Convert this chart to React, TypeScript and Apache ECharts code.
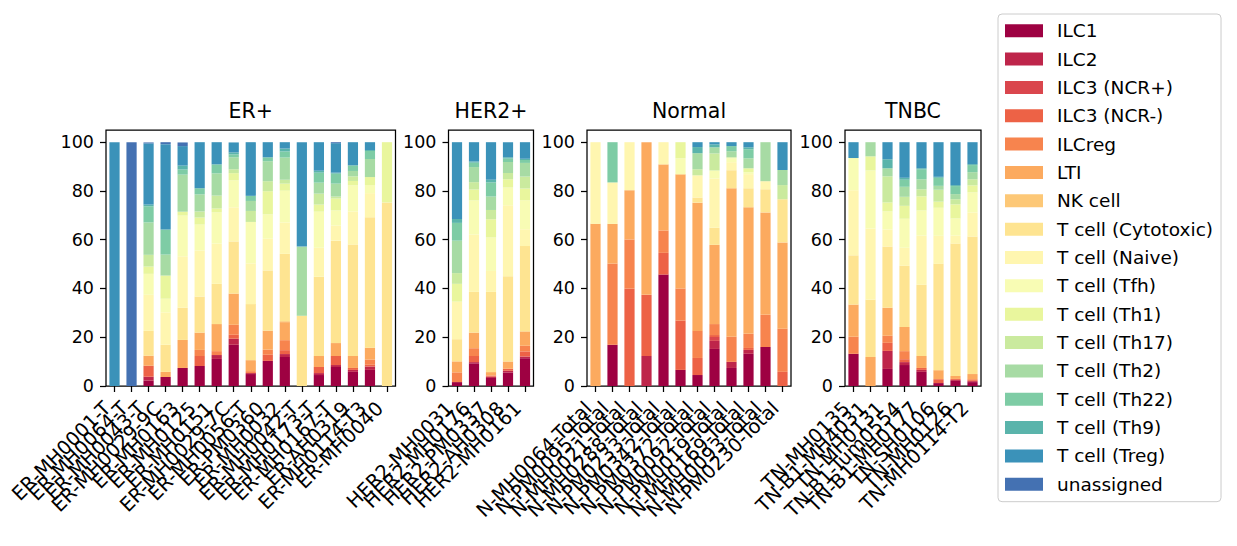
import React, { useEffect, useRef } from 'react';
import * as echarts from 'echarts';

const cellTypes = [
  'ILC1', 'ILC2', 'ILC3 (NCR+)', 'ILC3 (NCR-)', 'ILCreg', 'LTI', 'NK cell',
  'T cell (Cytotoxic)', 'T cell (Naive)', 'T cell (Tfh)', 'T cell (Th1)',
  'T cell (Th17)', 'T cell (Th2)', 'T cell (Th22)', 'T cell (Th9)',
  'T cell (Treg)', 'unassigned',
];

const cellColors = [
  '#9e0142', '#be254a', '#da464d', '#ed6246', '#f7844e', '#fcaa5f', '#fdc877',
  '#fee491', '#fff6b0', '#f8fcb4', '#e9f69d', '#caea9e', '#a7dba4', '#7ecca5',
  '#5ab4ab', '#3b92b9', '#4471b2',
];

const groupTitles = ['ER+', 'HER2+', 'Normal', 'TNBC'];

const erSamples = [
  'ER-MH0001-T', 'ER-MH0064-T', 'ER-MH0043-T', 'ER-MH0029-9C', 'ER-MH0163',
  'ER-MH0125', 'ER-MH0151', 'ER-MH0029-7C', 'ER-MH0056-T', 'ER-PM0360',
  'ER-MH0032', 'ER-MH0042-T', 'ER-MH0173-T', 'ER-MH0167-T', 'ER-AH0319',
  'ER-MH0114-T3', 'ER-MH0040',
];
const her2Samples = ['HER2-MH0031', 'HER2-MH0176', 'HER2-PM0337', 'HER2-AH0308', 'HER2-MH0161'];
const normalSamples = [
  'N-MH0064-Total', 'N-PM0095-Total', 'N-MH0021-Total', 'N-MH0288-Total',
  'N-PM0233-Total', 'N-PM0342-Total', 'N-PM0372-Total', 'N-PM0092-Total',
  'N-PM0019-Total', 'N-MH0169-Total', 'N-MH0093-Total', 'N-PM0230-Total',
];
const tnbcSamples = [
  'TN-MH0135', 'TN-B1-MH4031', 'TN-MH0131', 'TN-B1-Tum0554', 'TN-B1-MH0177',
  'TN-SH0106', 'TN-MH0126', 'TN-MH0114-T2',
];

// one row per sample, columns in cellTypes order (percent)
const erValues = [
  [0, 0, 0, 0, 0, 0, 0, 0, 0, 0, 0, 0, 0, 0, 0, 100, 0],
  [0, 0, 0, 0, 0, 0, 0, 0, 0, 0, 0, 0, 0, 0, 0, 0, 100],
  [2.2, 1.6, 0, 4.5, 0, 4.1, 0, 10.2, 14.8, 8.6, 3.0, 4.8, 13.3, 6.6, 0.7, 25.1, 0.4],
  [3.7, 0, 0, 0, 0, 2.1, 0, 11.1, 13.3, 5.6, 9.5, 0, 8.6, 10.3, 0, 35.0, 0.8],
  [7.4, 0, 0, 0, 0, 11.5, 0, 13.2, 21.1, 16.7, 1.6, 0, 15.2, 2.1, 1.6, 8.0, 1.5],
  [8.2, 0, 0, 4.1, 2.5, 7.1, 0, 14.8, 18.9, 10.6, 2.9, 2.5, 7.0, 2.5, 0, 18.9, 0],
  [11.1, 1.6, 0, 0, 1.6, 11.1, 0, 16.5, 16.5, 12.8, 1.6, 5.3, 9.1, 3.7, 0, 9.1, 0],
  [16.9, 2.5, 0, 1.6, 4.1, 12.8, 0, 21.4, 14.0, 11.1, 2.9, 1.6, 4.9, 1.2, 0.8, 4.1, 0],
  [4.9, 0.4, 0, 0, 0.8, 4.5, 0, 23.0, 16.7, 17.0, 0, 4.5, 4.1, 2.1, 0, 22.0, 0],
  [10.3, 0, 0, 2.5, 2.1, 7.8, 0, 24.7, 13.0, 10.0, 9.5, 4.1, 8.2, 1.6, 0, 6.2, 0],
  [11.9, 1.2, 0, 1.6, 4.1, 7.4, 0.4, 27.6, 12.9, 13.0, 2.9, 1.6, 9.1, 2.5, 1.2, 2.6, 0],
  [0, 0, 0, 0, 0, 0, 0, 28.8, 0, 0, 0, 0, 28.4, 0, 0, 42.8, 0],
  [4.5, 0.8, 0, 2.5, 0, 4.5, 0, 32.5, 11.9, 14.8, 2.9, 4.5, 4.5, 4.1, 0.8, 11.7, 0],
  [7.8, 0.8, 0, 3.7, 0, 5.3, 0, 42.0, 6.2, 6.2, 4.9, 0.8, 5.3, 4.1, 0.4, 12.1, 0.4],
  [5.8, 0.8, 0, 0.8, 0, 4.9, 0, 45.7, 13.6, 10.7, 1.8, 1.9, 2.2, 2.3, 0, 9.5, 0],
  [6.6, 1.4, 0, 0.7, 2.1, 4.9, 0, 53.5, 9.9, 3.3, 3.3, 0, 7.4, 3.3, 0.4, 3.2, 0],
  [0, 0, 0, 0, 0, 0, 0, 75.3, 0, 0, 24.7, 0, 0, 0, 0, 0, 0],
];
const her2Values = [
  [1.6, 0, 0, 0, 4.0, 4.5, 0, 9.1, 15.4, 0, 7.3, 4.4, 13.3, 7.3, 1.6, 31.5, 0],
  [9.3, 0.5, 0, 2.5, 3.2, 6.4, 0, 16.7, 23.5, 14.0, 4.5, 3.0, 6.2, 1.8, 0.5, 7.9, 0],
  [3.3, 0.5, 0, 0.5, 0, 1.4, 0, 32.9, 8.6, 13.7, 7.5, 3.8, 5.5, 5.8, 1.1, 15.4, 0],
  [5.5, 0.8, 0, 0.8, 0, 2.9, 0, 35.0, 29.1, 7.3, 3.4, 2.6, 4.5, 1.4, 0.5, 6.2, 0],
  [11.4, 0.7, 0, 2.1, 2.3, 5.9, 0, 35.0, 6.9, 11.9, 4.8, 4.9, 5.6, 1.2, 0.5, 6.8, 0],
];
const normalValues = [
  [0, 0, 0, 0, 0, 66.5, 0, 0, 33.5, 0, 0, 0, 0, 0, 0, 0, 0],
  [16.9, 0, 0, 0, 33.3, 16.3, 0, 0, 17.0, 0, 0, 0, 0, 16.5, 0, 0, 0],
  [0, 0, 0, 39.9, 20.2, 20.2, 0, 0, 19.7, 0, 0, 0, 0, 0, 0, 0, 0],
  [0, 12.3, 0, 25.1, 0, 62.6, 0, 0, 0, 0, 0, 0, 0, 0, 0, 0, 0],
  [45.7, 0, 0, 8.9, 9.2, 27.1, 0, 0, 9.1, 0, 0, 0, 0, 0, 0, 0, 0],
  [6.6, 0, 0, 20.2, 13.2, 46.8, 0, 0, 0, 6.6, 6.6, 0, 0, 0, 0, 0, 0],
  [4.5, 0, 0, 7.0, 11.1, 52.6, 0, 2.1, 9.1, 0, 0, 2.5, 6.6, 0, 2.5, 2.0, 0],
  [15.2, 3.3, 1.6, 0.8, 4.5, 32.5, 0, 7.0, 20.2, 3.3, 0, 7.0, 2.5, 0, 1.2, 0.9, 0],
  [7.4, 2.5, 0, 0, 10.3, 60.9, 0, 7.4, 3.3, 1.6, 0.4, 0, 2.5, 2.1, 0, 1.6, 0],
  [13.2, 1.6, 0, 0.8, 5.8, 51.9, 0, 7.8, 5.8, 0.8, 1.6, 0, 4.1, 3.7, 0.8, 2.1, 0],
  [16.0, 0, 0, 0, 13.2, 42.0, 0, 9.5, 3.3, 0, 0, 0, 16.0, 0, 0, 0, 0],
  [0, 0, 0, 5.8, 17.7, 35.4, 0, 17.7, 0, 0, 0, 5.8, 6.2, 0, 0, 11.4, 0],
];
const tnbcValues = [
  [13.2, 0, 0, 0, 7.0, 13.2, 0, 20.2, 26.7, 13.2, 0, 0, 0, 0, 0, 6.5, 0],
  [0, 0, 0, 0, 0, 11.9, 0, 23.5, 29.2, 23.8, 5.8, 0, 5.8, 0, 0, 0, 0],
  [7.0, 7.4, 0, 3.3, 2.9, 11.5, 0, 25.1, 7.0, 7.4, 3.7, 10.7, 3.3, 0, 3.7, 7.0, 0],
  [8.6, 1.2, 0, 1.2, 3.3, 9.9, 0, 25.1, 7.4, 11.9, 5.3, 3.7, 4.1, 2.9, 0.8, 14.6, 0],
  [5.8, 0.8, 0, 0.8, 0, 4.9, 0, 29.2, 20.2, 10.3, 5.8, 2.9, 4.1, 4.1, 0.4, 10.7, 0],
  [1.2, 0, 0, 1.6, 0, 3.7, 0, 43.6, 11.5, 11.5, 2.5, 4.9, 1.6, 3.3, 0.4, 14.2, 0],
  [2.1, 0.4, 0, 0.4, 0, 1.2, 0, 54.3, 3.3, 7.0, 5.8, 2.1, 2.1, 3.3, 0.4, 17.6, 0],
  [1.6, 0.4, 0, 0.4, 0.4, 2.1, 0, 56.4, 9.9, 8.2, 2.9, 2.5, 2.9, 2.9, 0.4, 9.0, 0],
];

const yTicks = [0, 20, 40, 60, 80, 100];

const FONT = 'DejaVu Sans';
const INK = '#000000';

const groups = [
  { samples: erSamples, values: erValues, left: 106, width: 289.5 },
  { samples: her2Samples, values: her2Values, left: 448.5, width: 85 },
  { samples: normalSamples, values: normalValues, left: 587, width: 204 },
  { samples: tnbcSamples, values: tnbcValues, left: 845, width: 136 },
];
const GRID_TOP = 130;
const GRID_HEIGHT = 256;

export default function App() {
  const ref = useRef<HTMLDivElement>(null);

  useEffect(() => {
    if (!ref.current) return;
    const chart = echarts.init(ref.current, undefined, { renderer: 'svg' });

    const grid = groups.map((g) => ({
      left: g.left,
      top: GRID_TOP,
      width: g.width,
      height: GRID_HEIGHT,
      show: true,
      borderColor: INK,
      borderWidth: 1.25,
      backgroundColor: 'transparent',
      containLabel: false,
      outerBoundsMode: 'none',
    }));

    const xAxis = groups.map((g, i) => ({
      type: 'category',
      gridIndex: i,
      data: g.samples,
      boundaryGap: true,
      axisLine: { show: false },
      axisTick: { show: true, alignWithLabel: true, interval: 0, length: 6, lineStyle: { color: INK, width: 1.25 } },
      axisLabel: {
        interval: 0,
        rotate: 45,
        margin: 12,
        fontSize: 19.5,
        fontFamily: FONT,
        color: INK,
        padding: [0, 10, 0, 0],
      },
      splitLine: { show: false },
    }));

    const yAxis = groups.map((g, i) => ({
      type: 'value',
      gridIndex: i,
      min: 0,
      max: 105,
      interval: 20,
      axisLine: { show: false },
      splitLine: { show: false },
      axisTick: { show: true, length: 6, lineStyle: { color: INK, width: 1.25 }, customValues: yTicks },
      axisLabel: {
        margin: 12,
        fontSize: 17.5,
        fontFamily: FONT,
        color: INK,
        customValues: yTicks,
        formatter: (v: number) => (v % 20 === 0 ? String(v) : ''),
      },
    }));

    const series: any[] = [];
    groups.forEach((g, gi) => {
      cellTypes.forEach((name, ci) => {
        series.push({
          type: 'bar',
          name,
          xAxisIndex: gi,
          yAxisIndex: gi,
          stack: 'stack' + gi,
          barWidth: '60%',
          itemStyle: { color: cellColors[ci] },
          emphasis: { disabled: true },
          data: g.values.map((row) => row[ci]),
        });
      });
    });

    const graphic = groups.map((g, i) => ({
      type: 'text',
      x: g.left + g.width / 2,
      y: 111,
      style: {
        text: groupTitles[i],
        fontSize: 20.5,
        fontFamily: FONT,
        fill: INK,
        align: 'center',
        verticalAlign: 'middle',
      },
    }));

    chart.setOption({
      animation: false,
      backgroundColor: '#ffffff',
      grid,
      xAxis,
      yAxis,
      series,
      graphic,
      legend: {
        orient: 'vertical',
        left: 998,
        top: 14,
        padding: [6.7, 8, 7.4, 7],
        itemWidth: 38,
        itemHeight: 13,
        itemGap: 8.35,
        icon: 'rect',
        borderColor: '#cccccc',
        borderWidth: 1,
        borderRadius: 4,
        backgroundColor: 'rgba(255,255,255,0.8)',
        selectedMode: false,
        data: cellTypes,
        textStyle: {
          fontSize: 18.5,
          fontFamily: FONT,
          color: INK,
          lineHeight: 20,
          padding: [0, 0, 0, 9],
        },
      },
    });

    return () => chart.dispose();
  }, []);

  return (
    <div
      ref={ref}
      style={{ position: 'absolute', left: 0, top: 0, width: 1237, height: 546 }}
    />
  );
}
